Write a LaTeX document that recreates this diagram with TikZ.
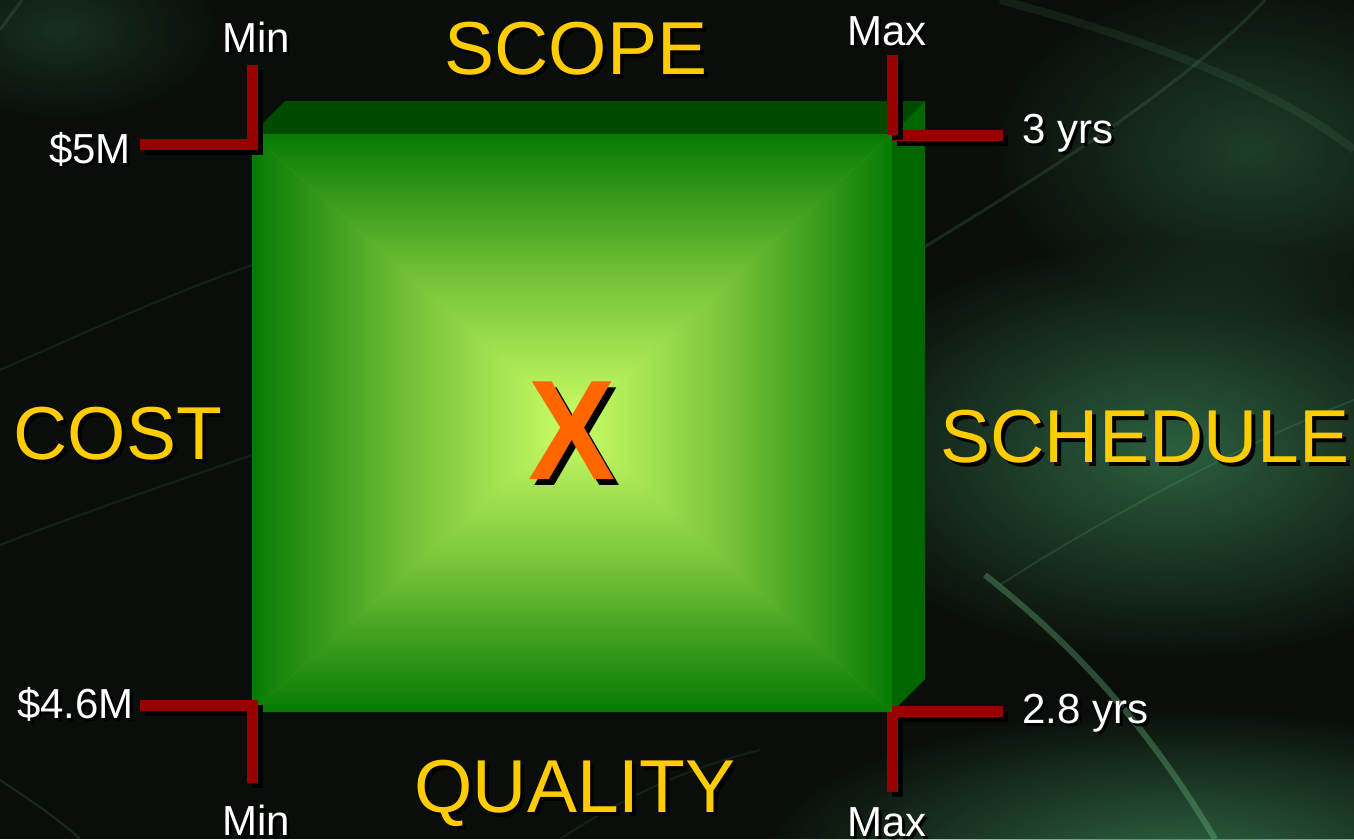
\documentclass[tikz,border=0pt]{standalone}
\usepackage{fontspec}
\setmainfont{Liberation Sans}
\usetikzlibrary{fadings}

\definecolor{bgdark}{RGB}{10,14,10}
\definecolor{glow}{RGB}{50,110,72}
\definecolor{streak}{RGB}{110,190,130}
\definecolor{edgegreen}{RGB}{6,122,4}
\definecolor{midgreen}{RGB}{118,194,56}
\definecolor{coregreen}{RGB}{204,255,104}
\definecolor{topface}{RGB}{0,74,0}
\definecolor{sideface}{RGB}{0,102,0}
\definecolor{barred}{RGB}{153,0,0}
\definecolor{titleyellow}{RGB}{255,204,0}
\definecolor{xorange}{RGB}{255,102,0}

\tikzfading[name=glowfade, inner color=transparent!0, outer color=transparent!100]

% texte avec ombre portée noire
\newcommand{\dropshade}[2]{\makebox[0pt][l]{\hspace*{#1}\raisebox{-#1}{\textcolor{black}{#2}}}#2}

\begin{document}
\begin{tikzpicture}[
x=1pt, y=-1pt, % une unité = un pixel de la figure
title/.style={text=titleyellow, font=\fontsize{75}{80}\selectfont, inner sep=0pt, anchor=base},
tag/.style={text=white, font=\fontsize{42}{46}\selectfont, inner sep=0pt, anchor=base},
bar/.style={draw=barred, line width=11pt, preaction={draw=black, line width=11pt, transform canvas={shift={(5pt,-5pt)}}}},
streakline/.style={draw=streak, line width=#1, opacity=0.15},
glowspot/.style={fill=glow, path fading=glowfade, opacity=#1}
]

% --- Fond ---
\useasboundingbox (0,0) rectangle (1354,839);
\clip (0,0) rectangle (1354,839);
\fill[bgdark] (0,0) rectangle (1354,839);
\fill[glowspot=0.85] (1170,450) ellipse (360 and 210);
\fill[glowspot=0.9] (1180,860) ellipse (420 and 150);
\fill[glowspot=0.5] (1250,150) ellipse (260 and 170);
\fill[glowspot=0.35] (60,30) ellipse (160 and 90);

% traînées lumineuses
\draw[streakline=6pt, opacity=0.35] (985,575) .. controls (1080,650) and (1150,730) .. (1215,839);
\draw[streakline=3pt] (900,262) .. controls (1050,170) and (1180,90) .. (1265,0);
\draw[streakline=8pt, opacity=0.1] (1000,0) .. controls (1150,40) and (1280,90) .. (1354,150);
\draw[streakline=2pt] (1000,585) .. controls (1100,520) and (1250,440) .. (1354,400);
\draw[streakline=2pt, opacity=0.1] (0,370) .. controls (90,330) and (180,290) .. (252,265);
\draw[streakline=2pt, opacity=0.1] (0,545) .. controls (90,510) and (180,480) .. (252,455);
\draw[streakline=2pt] (0,780) .. controls (30,800) and (60,820) .. (80,839);
\draw[streakline=3pt] (0,30) -- (22,0);
\draw[streakline=2pt, opacity=0.1] (560,839) .. controls (620,800) and (680,770) .. (760,750);

% --- Boîte ---
\coordinate (ftl) at (252,134);
\coordinate (ftr) at (892,134);
\coordinate (fbr) at (892,712);
\coordinate (fbl) at (252,712);
\coordinate (fc) at (572,423);
\coordinate (btl) at (285,101);
\coordinate (btr) at (925,101);
\coordinate (bbr) at (925,679);

\fill[topface] (ftl) -- (btl) -- (btr) -- (ftr) -- cycle;
\fill[sideface] (ftr) -- (btr) -- (bbr) -- (fbr) -- cycle;

% face avant : quatre triangles dégradés vers le centre
\fill[midgreen] (ftl) rectangle (fbr);
\shade[top color=edgegreen, bottom color=coregreen, middle color=midgreen] (ftl) -- (ftr) -- (fc) -- cycle;
\shade[bottom color=edgegreen, top color=coregreen, middle color=midgreen] (fbl) -- (fbr) -- (fc) -- cycle;
\shade[left color=edgegreen, right color=coregreen, middle color=midgreen] (ftl) -- (fbl) -- (fc) -- cycle;
\shade[right color=edgegreen, left color=coregreen, middle color=midgreen] (ftr) -- (fbr) -- (fc) -- cycle;

\node[text=xorange, font=\fontsize{142}{150}\selectfont\bfseries, inner sep=0pt, anchor=base, xscale=0.92] (mark) at (572,479) {\dropshade{6pt}{X}};

% --- Équerres rouges ---
\draw[bar] (140,144) -| (252,65);
\draw[bar] (140,705) -| (252,783);
\draw[bar] (892,135) -- (1003,135);
\draw[bar] (892,55) -- (892,135);
\draw[bar] (892,711) -- (1003,711);
\draw[bar] (892,712) -- (892,792);

% --- Étiquettes des bornes ---
\node[tag] (scopemin) at (256,52) {\dropshade{3pt}{Min}};
\node[tag, anchor=base east] (costhigh) at (131,163) {\dropshade{3pt}{\$5M}};
\node[tag] (scopemax) at (887,45) {\dropshade{3pt}{Max}};
\node[tag, anchor=base west] (schedhigh) at (1022,143) {\dropshade{3pt}{3 yrs}};
\node[tag, anchor=base east] (costlow) at (134,718) {\dropshade{3pt}{\$4.6M}};
\node[tag] (qualmin) at (256,835) {\dropshade{3pt}{Min}};
\node[tag, anchor=base west] (schedlow) at (1022,723) {\dropshade{3pt}{2.8 yrs}};
\node[tag] (qualmax) at (887,836) {\dropshade{3pt}{Max}};

% --- Titres des quatre axes ---
\node[title] (scope) at (576,74) {\dropshade{4pt}{SCOPE}};
\node[title] (cost) at (118,459) {\dropshade{4pt}{COST}};
\node[title] (schedule) at (1145,462) {\dropshade{4pt}{SCHEDULE}};
\node[title] (quality) at (575,812) {\dropshade{4pt}{QUALITY}};

\end{tikzpicture}
\end{document}
